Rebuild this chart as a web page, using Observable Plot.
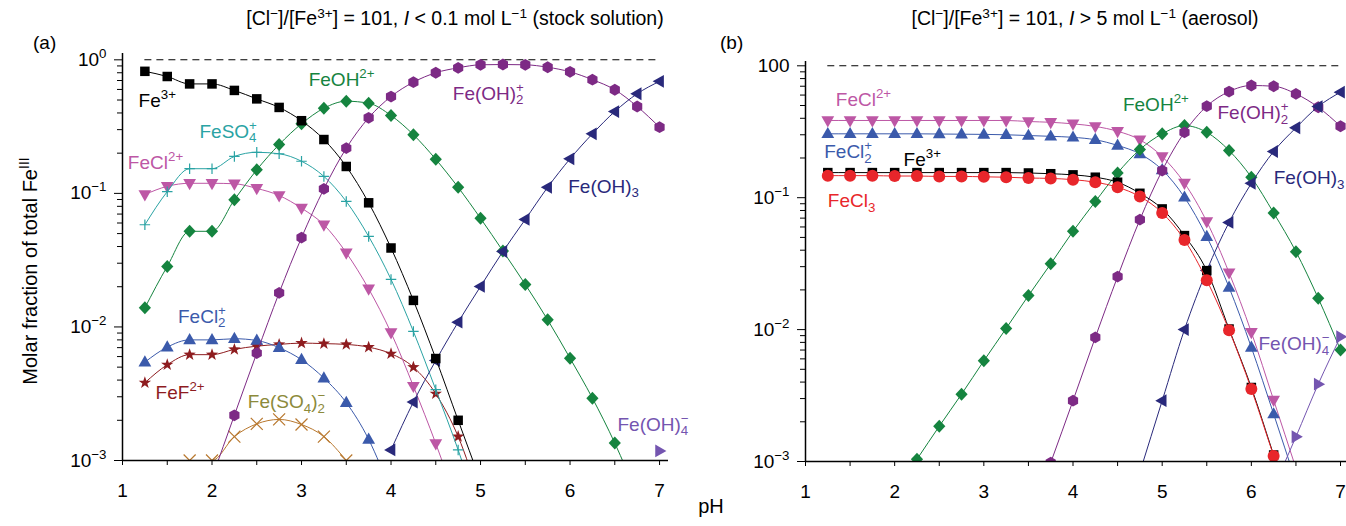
<!DOCTYPE html>
<html>
<head>
<meta charset="utf-8">
<script src="https://cdn.jsdelivr.net/npm/d3@7"></script>
<script src="https://cdn.jsdelivr.net/npm/@observablehq/plot@0.6"></script>
<style>
  body { margin: 0; background: #fff; }
  #fig { position: relative; width: 1346px; height: 526px; overflow: hidden;
         font-family: "Liberation Sans", Arial, sans-serif; color: #000; }
  .panel { position: absolute; top: 0; height: 526px; }
  .lab { position: absolute; white-space: nowrap; line-height: 1; font-size: 19px; }
  .lab sup { font-size: 70%; vertical-align: baseline; position: relative; top: -0.55em; }
  .title { font-size: 19.5px; }
</style>
</head>
<body>
<div id="fig">
  <div id="panelA" class="panel" style="left:0;width:680px"></div>
  <div id="panelB" class="panel" style="left:680px;width:666px"></div>
  <div class="lab" style="left:33px;top:33px">(a)</div>
  <div class="lab" style="left:720px;top:33px">(b)</div>
  <div class="lab title" style="left:455px;top:9px;transform:translateX(-50%)">[Cl<sup>−</sup>]/[Fe<sup>3+</sup>] = 101, <i>I</i> &lt; 0.1 mol L<sup>−1</sup> (stock solution)</div>
  <div class="lab title" style="left:1085px;top:9px;transform:translateX(-50%)">[Cl<sup>−</sup>]/[Fe<sup>3+</sup>] = 101, <i>I</i> &gt; 5 mol L<sup>−1</sup> (aerosol)</div>
  <div class="lab" style="left:30px;top:271px;font-size:20px;transform:translate(-50%,-50%) rotate(-90deg)">Molar fraction of total Fe<sup>III</sup></div>
  <div class="lab" style="left:711px;top:506px;font-size:20px;transform:translate(-50%,-50%)">pH</div>
</div>
<script>
// ---- pH grid shared by every species curve ----
const pH = [1.25, 1.5, 1.75, 2, 2.25, 2.5, 2.75, 3, 3.25, 3.5, 3.75, 4,
            4.25, 4.5, 4.75, 5, 5.25, 5.5, 5.75, 6, 6.25, 6.5, 6.75, 7];

// ---- axis ticks ----
const xTicks = [1, 2, 3, 4, 5, 6, 7];
const xMinorTicks = [1.5, 2.5, 3.5, 4.5, 5.5, 6.5];
const yTicks = [0.001, 0.01, 0.1, 1];
const yMinorTicks = [0.002, 0.003, 0.004, 0.005, 0.006, 0.007, 0.008, 0.009,
                     0.02, 0.03, 0.04, 0.05, 0.06, 0.07, 0.08, 0.09,
                     0.2, 0.3, 0.4, 0.5, 0.6, 0.7, 0.8, 0.9];

// ---- (a) stock solution: molar fractions, one value per pH point ----
const a_Fe3     = [0.82, 0.75, 0.66, 0.66, 0.59, 0.51, 0.44, 0.35, 0.253, 0.159, 0.085, 0.039, 0.0158, 0.0058, 0.0020, 0.0007, null, null, null, null, null, null, null, null];
const a_FeOH    = [0.0139, 0.0284, 0.052, 0.052, 0.0895, 0.150, 0.232, 0.332, 0.434, 0.49, 0.473, 0.383, 0.275, 0.18, 0.111, 0.065, 0.037, 0.0208, 0.0113, 0.00583, 0.00293, 0.00135, 0.00055, null];
const a_FeOH2   = [null, null, null, 0.00074, 0.00218, 0.00637, 0.018, 0.0466, 0.108, 0.218, 0.368, 0.531, 0.68, 0.80, 0.871, 0.918, 0.922, 0.918, 0.88, 0.813, 0.71, 0.597, 0.447, 0.313];
const a_FeOH3   = [null, null, null, null, null, null, null, null, null, null, null, 0.0012, 0.00274, 0.0056, 0.01086, 0.0201, 0.0367, 0.0638, 0.111, 0.1815, 0.279, 0.41, 0.557, 0.69];
const a_FeSO4   = [0.0582, 0.103, 0.153, 0.153, 0.189, 0.203, 0.198, 0.174, 0.134, 0.087, 0.0476, 0.0227, 0.00925, 0.00339, 0.0012, 0.00037, null, null, null, null, null, null, null, null];
const a_FeCl    = [0.098, 0.113, 0.119, 0.119, 0.118, 0.109, 0.0964, 0.0775, 0.0582, 0.0359, 0.0193, 0.00906, 0.0036, 0.00134, 0.00045, null, null, null, null, null, null, null, null, null];
const a_FeCl2   = [0.00545, 0.00706, 0.0080, 0.0080, 0.00816, 0.00792, 0.00699, 0.00568, 0.00414, 0.00271, 0.00144, 0.00058, null, null, null, null, null, null, null, null, null, null, null, null];
const a_FeF     = [0.00382, 0.00521, 0.0062, 0.0062, 0.00679, 0.00718, 0.0074, 0.00757, 0.0075, 0.0074, 0.00706, 0.0063, 0.0050, 0.00316, 0.00151, 0.0005, null, null, null, null, null, null, null, null];
const a_FeSO4_2 = [null, null, 0.001, 0.001, 0.00151, 0.00188, 0.00203, 0.00186, 0.00151, 0.001, null, null, null, null, null, null, null, null, null, null, null, null, null, null];
const a_FeOH4   = [null, null, null, null, null, null, null, null, null, null, null, null, null, null, null, null, null, null, null, null, null, null, null, 0.00118];

// ---- (b) aerosol ----
const b_FeCl    = [0.385, 0.385, 0.385, 0.385, 0.385, 0.385, 0.385, 0.385, 0.385, 0.378, 0.373, 0.363, 0.347, 0.319, 0.275, 0.205, 0.129, 0.0659, 0.027, 0.00955, 0.00292, 0.00089, null, null];
const b_FeCl2   = [0.305, 0.305, 0.305, 0.305, 0.305, 0.304, 0.303, 0.302, 0.30, 0.296, 0.292, 0.287, 0.275, 0.249, 0.215, 0.1625, 0.1007, 0.0507, 0.0209, 0.00733, 0.00229, 0.0007, null, null];
const b_Fe3     = [0.155, 0.155, 0.155, 0.155, 0.155, 0.155, 0.155, 0.155, 0.155, 0.154, 0.152, 0.149, 0.143, 0.131, 0.108, 0.0822, 0.0516, 0.028, 0.0101, 0.00364, 0.00112, 0.00035, null, null];
const b_FeCl3   = [0.147, 0.147, 0.147, 0.146, 0.146, 0.145, 0.145, 0.144, 0.143, 0.141, 0.140, 0.137, 0.131, 0.12, 0.102, 0.0767, 0.0478, 0.0237, 0.0099, 0.00354, 0.0011, 0.00034, null, null];
const b_FeOH    = [null, null, null, null, 0.00104, 0.00185, 0.00324, 0.0058, 0.0102, 0.0181, 0.0315, 0.0556, 0.0934, 0.154, 0.232, 0.305, 0.352, 0.313, 0.228, 0.143, 0.0767, 0.039, 0.0173, 0.007];
const b_FeOH2   = [null, null, null, null, null, null, null, null, null, null, 0.00098, 0.00289, 0.00873, 0.0252, 0.0682, 0.1606, 0.313, 0.494, 0.638, 0.709, 0.70, 0.613, 0.485, 0.348];
const b_FeOH3   = [null, null, null, null, null, null, null, null, null, null, null, null, null, null, 0.00083, 0.00289, 0.0100, 0.028, 0.065, 0.1285, 0.224, 0.339, 0.491, 0.631];
const b_FeOH4   = [null, null, null, null, null, null, null, null, null, null, null, null, null, null, null, null, null, null, null, null, 0.00063, 0.00154, 0.00386, 0.00883];

// ---- species names (with ^ superscript and _ subscript markup) ----
const names = {
  Fe3: "Fe^{3+}", FeOH: "FeOH^{2+}", FeOH2: "Fe(OH)_2^+", FeOH3: "Fe(OH)_3",
  FeSO4: "FeSO_4^+", FeCl: "FeCl^{2+}", FeCl2: "FeCl_2^+", FeF: "FeF^{2+}",
  FeSO4_2: "Fe(SO_4)_2^−", FeOH4: "Fe(OH)_4^−", FeCl3: "FeCl_3"
};

// ---- marker shapes (custom d3-style symbols, scaled by the dot radius) ----
const poly = pts => ({draw(ctx, size) {
  const r = Math.sqrt(size / Math.PI);
  pts.forEach(([x, y], i) => i ? ctx.lineTo(x * r, y * r) : ctx.moveTo(x * r, y * r));
  ctx.closePath();
}});
const starPts = [];
for (let k = 0; k < 10; k++) {
  const a = -Math.PI / 2 + k * Math.PI / 5, rr = k % 2 ? 0.52 : 1.3;
  starPts.push([rr * Math.cos(a), rr * Math.sin(a)]);
}
const SYM = {
  square: poly([[-0.95, -0.95], [0.95, -0.95], [0.95, 0.95], [-0.95, 0.95]]),
  diamond: poly([[0, -1.3], [1.22, 0], [0, 1.3], [-1.22, 0]]),
  hexagon: poly([[0, -1.18], [1.02, -0.59], [1.02, 0.59], [0, 1.18], [-1.02, 0.59], [-1.02, -0.59]]),
  triUp: poly([[0, -1.38], [1.28, 0.86], [-1.28, 0.86]]),
  triDown: poly([[0, 1.38], [1.28, -0.86], [-1.28, -0.86]]),
  triLeft: poly([[-1.38, 0], [0.86, -1.28], [0.86, 1.28]]),
  triRight: poly([[1.38, 0], [-0.86, -1.28], [-0.86, 1.28]]),
  star: poly(starPts),
  circle: {draw(ctx, size) { const r = 1.2 * Math.sqrt(size / Math.PI); ctx.moveTo(r, 0); ctx.arc(0, 0, r, 0, 2 * Math.PI); }},
  plus: {draw(ctx, size) { const r = 1.05 * Math.sqrt(size / Math.PI); ctx.moveTo(-r, 0); ctx.lineTo(r, 0); ctx.moveTo(0, -r); ctx.lineTo(0, r); }},
  times: {draw(ctx, size) { const r = 1.2 * Math.sqrt(size / Math.PI); ctx.moveTo(-r, -r); ctx.lineTo(r, r); ctx.moveTo(-r, r); ctx.lineTo(r, -r); }}
};
const outlined = new Set([SYM.plus, SYM.times]);

// ---- colours and markers per species ----
const style = {
  Fe3:     {color: "#000000", symbol: SYM.square},
  FeOH:    {color: "#15843f", symbol: SYM.diamond},
  FeOH2:   {color: "#7d2a85", symbol: SYM.hexagon},
  FeOH3:   {color: "#29297b", symbol: SYM.triLeft},
  FeSO4:   {color: "#2aa3a4", symbol: SYM.plus},
  FeCl:    {color: "#bd57a5", symbol: SYM.triDown},
  FeCl2:   {color: "#3b5aab", symbol: SYM.triUp},
  FeF:     {color: "#8e1c1f", symbol: SYM.star},
  FeSO4_2: {color: "#b8772d", symbol: SYM.times, text: "#8c8a3b"},
  FeOH4:   {color: "#7455b0", symbol: SYM.triRight},
  FeCl3:   {color: "#e8262b", symbol: SYM.circle}
};

const seriesA = [
  ["FeSO4_2", a_FeSO4_2], ["FeF", a_FeF], ["FeCl2", a_FeCl2], ["FeCl", a_FeCl],
  ["FeSO4", a_FeSO4], ["FeOH", a_FeOH], ["FeOH2", a_FeOH2], ["FeOH3", a_FeOH3],
  ["Fe3", a_Fe3], ["FeOH4", a_FeOH4]
];
const seriesB = [
  ["FeCl", b_FeCl], ["FeCl2", b_FeCl2], ["FeOH", b_FeOH], ["FeOH2", b_FeOH2],
  ["FeOH3", b_FeOH3], ["FeOH4", b_FeOH4], ["Fe3", b_Fe3], ["FeCl3", b_FeCl3]
];

// ---- where each species name is written (pH, fraction at the text's middle) ----
const labelsA = [
  ["Fe3", 1.18, 0.49], ["FeOH", 3.08, 0.71], ["FeSO4", 1.86, 0.29], ["FeCl", 1.06, 0.169],
  ["FeOH2", 4.69, 0.56], ["FeOH3", 5.98, 0.112], ["FeCl2", 1.62, 0.0119], ["FeF", 1.37, 0.0032],
  ["FeSO4_2", 2.40, 0.00274], ["FeOH4", 6.53, 0.00185]
];
const labelsB = [
  ["FeCl", 1.34, 0.55], ["FeCl2", 1.21, 0.222], ["Fe3", 2.10, 0.1945], ["FeCl3", 1.25, 0.0942],
  ["FeOH", 4.56, 0.504], ["FeOH2", 5.62, 0.438], ["FeOH3", 6.25, 0.141], ["FeOH4", 6.08, 0.00774]
];

// ---- turn ^/_ markup inside SVG text into raised / lowered tspans ----
const SVGNS = "http://www.w3.org/2000/svg";
function parseRich(s) {
  const out = []; let i = 0, buf = "";
  const group = () => {
    if (s[i] === "{") { const j = s.indexOf("}", i); const g = s.slice(i + 1, j); i = j + 1; return g; }
    return s[i++];
  };
  while (i < s.length) {
    const c = s[i];
    if (c === "^" || c === "_") {
      if (buf) { out.push({t: "n", s: buf}); buf = ""; }
      i++;
      const g = group();
      if (c === "_" && s[i] === "^") { i++; out.push({t: "stack", sub: g, sup: group()}); }
      else out.push({t: c === "^" ? "sup" : "sub", s: g});
    } else { buf += c; i++; }
  }
  if (buf) out.push({t: "n", s: buf});
  return out;
}
function richText(el) {
  const fs = parseFloat(getComputedStyle(el).fontSize) || 19;
  const parts = parseRich(el.textContent);
  el.textContent = "";
  const SUP = -0.42 * fs, SUB = 0.24 * fs, small = 0.7 * fs;
  let shift = 0;
  const add = (txt, target, size, dx) => {
    const t = document.createElementNS(SVGNS, "tspan");
    t.textContent = txt;
    if (size) t.setAttribute("font-size", size);
    if (target - shift) t.setAttribute("dy", target - shift);
    if (dx) t.setAttribute("dx", dx);
    shift = target;
    el.appendChild(t);
    return t;
  };
  for (const p of parts) {
    if (p.t === "n") add(p.s, 0);
    else if (p.t === "sup") add(p.s, SUP, small);
    else if (p.t === "sub") add(p.s, SUB, small);
    else { const a = add(p.sub, SUB, small); add(p.sup, SUP, small, -a.getComputedTextLength()); }
  }
}

// ---- one panel ----
function panel({series, labels, width, marginLeft, marginRight, marginTop, marginBottom, xMax, yMax, topLabel}) {
  const marks = [
    Plot.ruleY([1], {x1: pH[0], x2: pH[pH.length - 1], stroke: "#000", strokeWidth: 1.1, strokeDasharray: "7,5"})
  ];
  for (const [key, values] of series) {
    const s = style[key];
    const rows = values.map((v, i) => ({pH: pH[i], v})).filter(d => d.v != null);
    marks.push(Plot.line(rows, {x: "pH", y: "v", stroke: s.color, strokeWidth: 1, curve: "monotone-x", clip: true}));
    const hollow = outlined.has(s.symbol);
    marks.push(Plot.dot(rows, {x: "pH", y: "v", r: 5, symbol: s.symbol,
      fill: hollow ? "none" : s.color, stroke: hollow ? s.color : "none", strokeWidth: 1.2, clip: true}));
  }
  for (const [key, x, y] of labels) {
    marks.push(Plot.text([{pH: x, v: y, t: names[key]}], {x: "pH", y: "v", text: "t",
      fill: style[key].text || style[key].color, textAnchor: "start", fontSize: 19}));
  }
  marks.push(
    Plot.ruleY([0.001], {stroke: "#000", strokeWidth: 1.5}),
    Plot.ruleX([1], {stroke: "#000", strokeWidth: 1.5}),
    Plot.axisX({ticks: xTicks, tickSize: 5, tickPadding: 18, fontSize: 19, label: null, tickFormat: d => String(d)}),
    Plot.axisX({ticks: xMinorTicks, tickSize: 5, label: null, tickFormat: () => ""}),
    Plot.axisY({ticks: yTicks, tickSize: 8, tickPadding: 8, fontSize: 19, label: null,
      tickFormat: d => d === 1 ? topLabel : `10^{−${Math.round(-Math.log10(d))}}`}),
    Plot.axisY({ticks: yMinorTicks, tickSize: 5, label: null, tickFormat: () => ""})
  );
  return Plot.plot({
    width, height: 526, marginLeft, marginRight, marginTop, marginBottom,
    x: {domain: [1, xMax]},
    y: {type: "log", domain: [0.001, yMax]},
    style: {fontFamily: "'Liberation Sans', Arial, sans-serif", fontSize: "19px", color: "#000",
            background: "none", overflow: "visible"},
    marks
  });
}

const svgA = panel({series: seriesA, labels: labelsA, width: 680, marginLeft: 122, marginRight: 12,
  marginTop: 53, marginBottom: 66, xMax: 7.1, yMax: 1.115, topLabel: "10^0"});
const svgB = panel({series: seriesB, labels: labelsB, width: 666, marginLeft: 125, marginRight: 0,
  marginTop: 61, marginBottom: 65, xMax: 7.067, yMax: 1.078, topLabel: "100"});
document.getElementById("panelA").appendChild(svgA);
document.getElementById("panelB").appendChild(svgB);
for (const svg of [svgA, svgB]) {
  svg.querySelectorAll("text").forEach(t => { if (/[\^_]/.test(t.textContent)) richText(t); });
}
</script>
</body>
</html>
